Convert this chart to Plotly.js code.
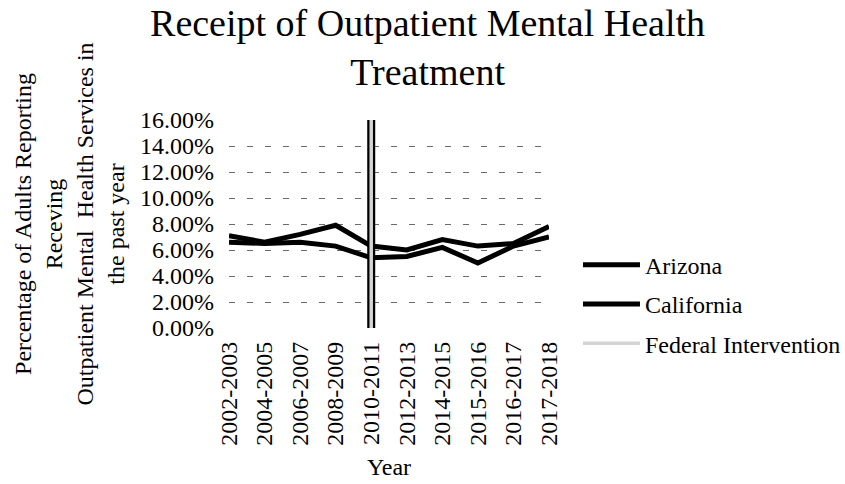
<!DOCTYPE html>
<html>
<head>
<meta charset="utf-8">
<script src="https://cdn.plot.ly/plotly-3.0.1.min.js"></script>
<style>html,body{margin:0;padding:0;background:#fff;}#chart{width:845px;height:484px;}</style>
</head>
<body>
<div id="chart"></div>
<script>
var years = ['2002-2003','2004-2005','2006-2007','2008-2009','2010-2011','2012-2013','2014-2015','2015-2016','2016-2017','2017-2018'];
var arizona = [0.071, 0.066, 0.072, 0.079, 0.063, 0.060, 0.068, 0.063, 0.065, 0.078];
var california = [0.066, 0.065, 0.066, 0.063, 0.054, 0.055, 0.062, 0.050, 0.063, 0.070];
var interventionYear = ['2010-2011', '2010-2011'];
var interventionSpan = [0, 0.16];
var yTicks = [0, 0.02, 0.04, 0.06, 0.08, 0.10, 0.12, 0.14, 0.16];

var serif = '"Liberation Serif", "Times New Roman", serif';

var traces = [
  {x: years, y: arizona, name: 'Arizona', type: 'scatter', mode: 'lines',
   line: {color: '#000000', width: 5}, legendgroup: 'a'},
  {x: years, y: california, name: 'California', type: 'scatter', mode: 'lines',
   line: {color: '#000000', width: 5}, legendgroup: 'c'},
  {x: interventionYear, y: interventionSpan, name: 'Federal Intervention outline', type: 'scatter', mode: 'lines',
   line: {color: '#000000', width: 8}, showlegend: false, legendgroup: 'f', hoverinfo: 'skip'},
  {x: interventionYear, y: interventionSpan, name: 'Federal Intervention', type: 'scatter', mode: 'lines',
   line: {color: '#d4d4d4', width: 3.5}, legendgroup: 'f'}
];

var layout = {
  width: 845, height: 484,
  paper_bgcolor: '#ffffff', plot_bgcolor: '#ffffff',
  margin: {l: 229, r: 296, t: 120, b: 156, autoexpand: false},
  font: {family: serif, size: 24, color: '#000000'},
  title: {text: 'Receipt of Outpatient Mental Health<br>Treatment',
          font: {family: serif, size: 38, color: '#000000'},
          x: 0.506, xanchor: 'center', xref: 'container',
          y: 0.926, yanchor: 'top', yref: 'container'},
  xaxis: {type: 'category', categoryorder: 'array', categoryarray: years,
          tickangle: -90, showgrid: false, zeroline: false, showline: false, ticks: '',
          ticklabelstandoff: 8,
          tickfont: {family: serif, size: 24, color: '#000000'},
          title: {text: 'Year', font: {family: serif, size: 24, color: '#000000'}, standoff: 13}},
  yaxis: {range: [0, 0.16], tickvals: yTicks, tickformat: '.2%',
          showgrid: true, gridcolor: '#6a6a6a', gridwidth: 1, griddash: '6px,12px',
          zeroline: false, showline: false, ticks: '', ticklabelstandoff: 14,
          tickfont: {family: serif, size: 24, color: '#000000'},
          title: {text: 'Percentage of Adults Reporting<br>Receving<br>Outpatient Mental  Health Services in<br>the past year',
                  font: {family: serif, size: 24, color: '#000000'}, standoff: 8}},
  showlegend: true,
  legend: {x: 0.684, xref: 'container', xanchor: 'left', y: 0.41, yanchor: 'top',
           font: {family: serif, size: 24, color: '#000000'},
           traceorder: 'grouped', tracegroupgap: 5, itemwidth: 57,
           bgcolor: 'rgba(0,0,0,0)'},
  hovermode: false
};

Plotly.newPlot('chart', traces, layout, {displayModeBar: false, staticPlot: true});
</script>
</body>
</html>
